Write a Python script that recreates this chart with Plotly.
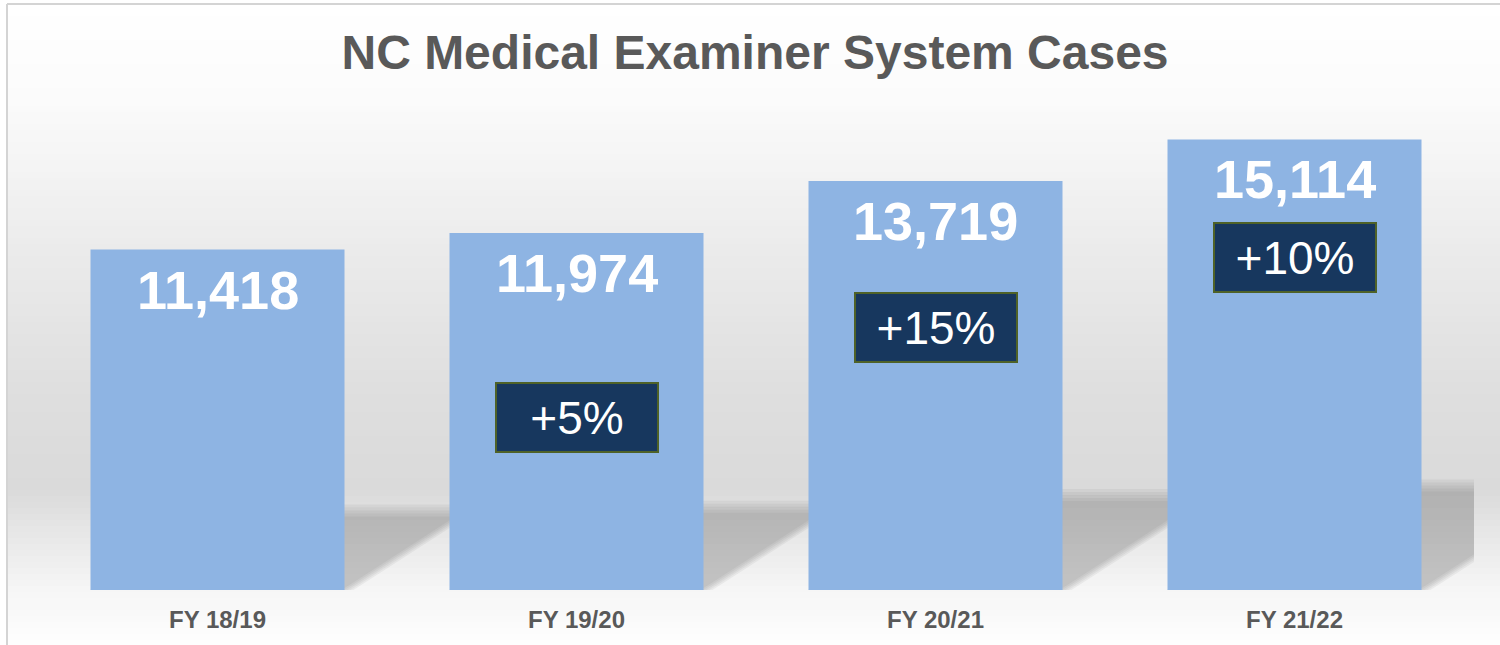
import plotly.graph_objects as go

# data
years = ["FY 18/19", "FY 19/20", "FY 20/21", "FY 21/22"]
cases = [11418, 11974, 13719, 15114]

# where the percent-change boxes sit (y in data units), one per year after the first
box_y = [5800, 8810, 11140]

W, H = 1500, 645
ML, MR, MT, MB = 38, 26, 113, 55
Y_MAX = 16000
BAR_W = 0.7075

plot_w = W - ML - MR
plot_h = H - MT - MB
px_per_y = plot_h / Y_MAX
px_per_x = plot_w / len(years)


def px2paper_x(px):
    return (px - ML) / plot_w


def px2paper_y(py):
    return (H - MB - py) / plot_h


fig = go.Figure()
shapes = []

# background gradient (pixel y, grey level)
stops = [(4, 255), (100, 251), (250, 235), (400, 222), (490, 218), (530, 230), (590, 246), (645, 254)]
step = 6
y = 4
while y < H:
    y2 = min(y + step, H)
    mid = (y + y2) / 2
    g = 254
    for (a, ca), (b, cb) in zip(stops[:-1], stops[1:]):
        if a <= mid <= b:
            g = ca + (cb - ca) * (mid - a) / (b - a)
            break
    g = round(g)
    shapes.append(dict(type="rect", xref="paper", yref="paper", layer="below",
                       x0=px2paper_x(8), x1=px2paper_x(W + 5),
                       y0=px2paper_y(y2 + 0.5), y1=px2paper_y(y),
                       fillcolor=f"rgb({g},{g},{g})", line=dict(width=0)))
    y = y2

# frame lines (top and left)
shapes.append(dict(type="line", xref="paper", yref="paper", layer="below",
                   x0=px2paper_x(7), x1=px2paper_x(W + 5), y0=px2paper_y(4), y1=px2paper_y(4),
                   line=dict(color="#d4d4d4", width=2)))
shapes.append(dict(type="line", xref="paper", yref="paper", layer="below",
                   x0=px2paper_x(7), x1=px2paper_x(7), y0=px2paper_y(4), y1=px2paper_y(H + 5),
                   line=dict(color="#d4d4d4", width=2)))

# soft floor shadows cast behind each bar
SHADOW_RATIO = 0.225
SHADOW_SKEW = 1.55
for i, v in enumerate(cases):
    h = SHADOW_RATIO * v
    for e in [9, 6, 3, 0, -3]:
        hh = h + e / px_per_y
        dx = SHADOW_SKEW * hh * px_per_y / px_per_x
        ex = e / px_per_x
        x0 = i - BAR_W / 2
        x1 = i + BAR_W / 2 + ex
        path = f"M {x0},0 L {x1},0 L {x1 + dx},{hh} L {x0 + dx},{hh} Z"
        shapes.append(dict(type="path", xref="x", yref="y", layer="below", path=path,
                           fillcolor="rgba(100,100,100,0.075)", line=dict(width=0)))

fig.add_trace(go.Bar(
    x=list(range(len(years))),
    y=cases,
    width=BAR_W,
    marker=dict(color="#8eb4e3", line=dict(width=0)),
    hoverinfo="skip",
))

annotations = []
# value labels
for i, v in enumerate(cases):
    annotations.append(dict(x=i, y=v, xref="x", yref="y", text=f"<b>{v:,}</b>",
                            showarrow=False, yanchor="middle", yshift=-40,
                            font=dict(family="Liberation Sans, Arial", size=54, color="white")))

# percent change boxes
for i in range(1, len(cases)):
    pct = round((cases[i] / cases[i - 1] - 1) * 100)
    annotations.append(dict(x=i, y=box_y[i - 1], xref="x", yref="y", text=f"+{pct}%",
                            showarrow=False, xanchor="center", yanchor="middle",
                            width=160, height=67, borderpad=0, borderwidth=2,
                            bgcolor="#17375e", bordercolor="#4f6228",
                            font=dict(family="Liberation Sans, Arial", size=46, color="white")))

fig.update_layout(
    width=W, height=H,
    margin=dict(l=ML, r=MR, t=MT, b=MB),
    paper_bgcolor="white",
    plot_bgcolor="rgba(0,0,0,0)",
    showlegend=False,
    title=dict(text="<b>NC Medical Examiner System Cases</b>",
               x=755 / W, xanchor="center", y=1 - 52 / H, yanchor="middle",
               font=dict(family="Liberation Sans, Arial", size=48, color="#595959")),
    shapes=shapes,
    annotations=annotations,
    xaxis=dict(range=[-0.5, len(years) - 0.5], tickvals=list(range(len(years))), ticktext=years,
               showgrid=False, zeroline=False, showline=False, automargin=False,
               ticks="outside", ticklen=8, tickcolor="rgba(0,0,0,0)",
               tickfont=dict(family="Liberation Sans, Arial", size=24, color="#595959", weight="bold")),
    yaxis=dict(range=[0, Y_MAX], visible=False, showgrid=False, zeroline=False, automargin=False),
)

# page body has a default 8px margin; drop it so the chart sits at the window origin
fig.write_html("out.html", config={"displayModeBar": False},
               post_script="document.body.style.margin='0';")
